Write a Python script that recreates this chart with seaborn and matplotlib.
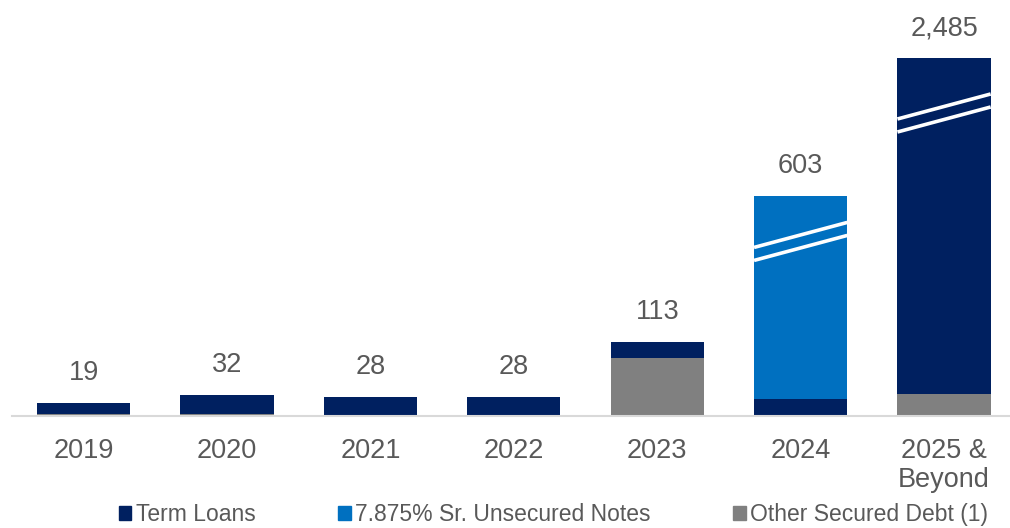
import numpy as np
import matplotlib
matplotlib.use("Agg")
import matplotlib.pyplot as plt
from matplotlib.patches import Patch
import seaborn as sns

# data (US$ millions)
years = ["2019", "2020", "2021", "2022", "2023", "2024", "2025 &\nBeyond"]
term_loans = [16, 30, 27, 27, 25, 25, 2452]
sr_notes = [0, 0, 0, 0, 0, 578, 0]
other_secured = [3, 2, 1, 1, 88, 0, 33]
totals = [19, 32, 28, 28, 113, 603, 2485]
# bars that get the broken-axis marks, and the value where the marks sit
break_bars = [5, 6]
break_at = [450, 1735]

navy = "#002060"
blue = "#0070C0"
gray = "#808080"
text_col = "#595959"

# broken value axis: linear at the bottom, squeezed above
knots_v = [0, 113, 603, 2485, 4000]
knots_p = [0, 74, 219.5, 357.5, 468.6]


def fwd(v):
    return np.interp(v, knots_v, knots_p)


def inv(p):
    return np.interp(p, knots_p, knots_v)


sns.set_theme(style="white")
plt.rcParams["font.family"] = ["Liberation Sans", "DejaVu Sans"]

fig = plt.figure(figsize=(10.1, 5.28), dpi=100)
ax = fig.add_axes([12 / 1010, 112.5 / 528, 998 / 1010, 415.5 / 528])
ax.set_yscale("function", functions=(fwd, inv))

low = np.array(other_secured)
mid = low + np.array(term_loans)
top = mid + np.array(sr_notes)

sns.barplot(x=years, y=top, color=blue, width=0.65, saturation=1, linewidth=0, ax=ax)
sns.barplot(x=years, y=mid, color=navy, width=0.65, saturation=1, linewidth=0, ax=ax)
sns.barplot(x=years, y=low, color=gray, width=0.65, saturation=1, linewidth=0, ax=ax)

ax.set_xlim(-0.5, 6.46)
ax.set_ylim(0, inv(415.5))

# white double slashes on the squeezed bars
for i, b in zip(break_bars, break_at):
    c = fwd(b)
    for off in (-6.5, 6.5):
        ax.plot([i - 0.325, i + 0.325], [inv(c - 12.5 + off), inv(c + 12.5 + off)],
                color="white", lw=2.6, solid_capstyle="butt", zorder=5)

for i, t in enumerate(totals):
    ax.annotate(f"{t:,}", (i, t), xytext=(0, 21.5), textcoords="offset points",
                ha="center", va="center", fontsize=19.5, color=text_col)

ax.set_yticks([])
ax.set_ylabel("")
ax.set_xlabel("")
ax.tick_params(axis="x", length=0, pad=16, labelsize=19.5, labelcolor=text_col)
for lab in ax.get_xticklabels():
    lab.set_linespacing(1.15)
for s in ["top", "left", "right"]:
    ax.spines[s].set_visible(False)
ax.spines["bottom"].set_color("#d9d9d9")
ax.spines["bottom"].set_linewidth(1.5)
ax.grid(False)

handles = [Patch(color=navy, label="Term Loans"),
           Patch(color=blue, label="7.875% Sr. Unsecured Notes"),
           Patch(color=gray, label="Other Secured Debt (1)")]
fig.legend(handles=handles, loc="center", bbox_to_anchor=(0.548, 0.026), ncol=3,
           frameon=False, fontsize=16.5, labelcolor=text_col, handlelength=0.55,
           handleheight=0.55, handletextpad=0.2, columnspacing=3.6, borderpad=0)

fig.savefig("out.png", dpi=100)
